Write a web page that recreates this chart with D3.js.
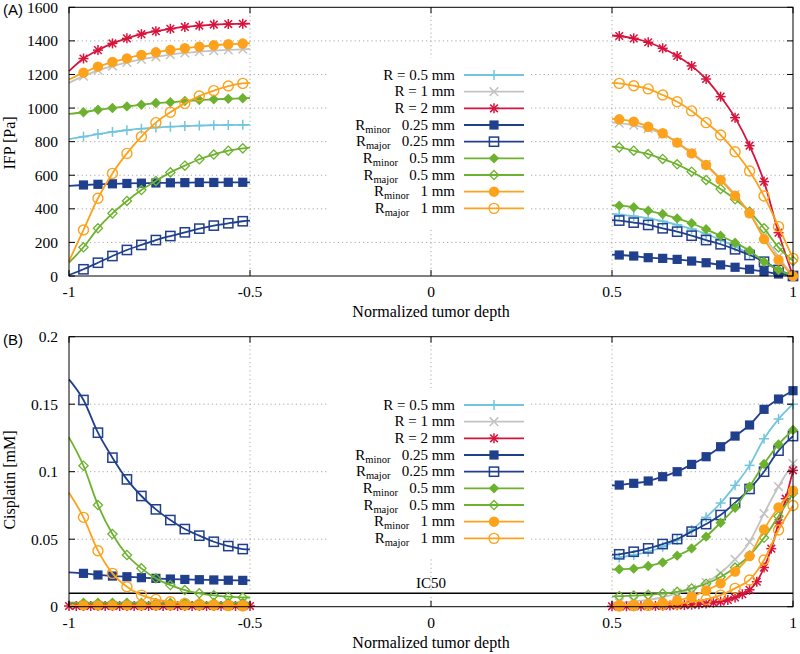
<!DOCTYPE html>
<html><head><meta charset="utf-8">
<script src="https://cdn.jsdelivr.net/npm/d3@7"></script>
<style>
html,body{margin:0;padding:0;background:#fff;}
svg text{font-family:"Liberation Serif","Times New Roman",serif;fill:#000;}
</style></head>
<body><svg id="c" width="800" height="654" font-family="Liberation Serif, serif"></svg>
<script>
// ---------- data ----------
const xTicks = [-1, -0.5, 0, 0.5, 1];
const xTickLabels = ["-1", "-0.5", "0", "0.5", "1"];
const ifpTicks = [0, 200, 400, 600, 800, 1000, 1200, 1400, 1600];
const cisTicks = [0, 0.05, 0.1, 0.15, 0.2];
const cisTickLabels = ["0", "0.05", "0.1", "0.15", "0.2"];

const xLeft  = [-1, -0.96, -0.92, -0.88, -0.84, -0.80, -0.76, -0.72, -0.68, -0.64, -0.60, -0.56, -0.52, -0.50];
const xRight = [0.50, 0.52, 0.56, 0.60, 0.64, 0.68, 0.72, 0.76, 0.80, 0.84, 0.88, 0.92, 0.96, 1.00];
const xFineLeft  = [-1, -0.98, -0.96, -0.94, -0.92, -0.90, -0.88, -0.86, -0.84, -0.82, -0.80, -0.78, -0.76, -0.74, -0.72, -0.70, -0.68, -0.66, -0.64, -0.62, -0.60, -0.58, -0.56, -0.54, -0.52, -0.50];
const xFineRight = [0.50, 0.52, 0.54, 0.56, 0.58, 0.60, 0.62, 0.64, 0.66, 0.68, 0.70, 0.72, 0.74, 0.76, 0.78, 0.80, 0.82, 0.84, 0.86, 0.88, 0.90, 0.92, 0.94, 0.96, 0.98, 1.00];

const seriesNames = ["R = 0.5 mm", "R = 1 mm", "R = 2 mm", "Rminor 0.25 mm", "Rmajor 0.25 mm", "Rminor 0.5 mm", "Rmajor 0.5 mm", "Rminor 1 mm", "Rmajor 1 mm"];

// IFP [Pa], left part
const ifpL_R05    = [815, 830, 845, 858, 868, 877, 884, 889, 893, 896, 898, 899, 900, 900];
const ifpL_R1     = [1150, 1190, 1225, 1250, 1272, 1290, 1305, 1318, 1328, 1336, 1342, 1346, 1350, 1352];
const ifpL_R2     = [1220, 1295, 1345, 1385, 1415, 1440, 1458, 1472, 1483, 1491, 1497, 1500, 1502, 1503];
const ifpL_Rmin025= [537, 542, 546, 549, 551, 553, 554, 555, 556, 557, 557, 558, 558, 558];
const ifpL_Rmaj025= [6, 40, 79, 119, 155, 185, 214, 238, 260, 282, 300, 314, 326, 330];
const ifpL_Rmin05 = [965, 975, 990, 1000, 1010, 1020, 1030, 1035, 1042, 1048, 1052, 1055, 1058, 1060];
const ifpL_Rmaj05 = [80, 171, 284, 373, 447, 512, 566, 617, 657, 695, 723, 746, 760, 765];
const ifpL_Rmin1  = [1170, 1211, 1247, 1274, 1296, 1316, 1332, 1346, 1356, 1366, 1374, 1380, 1384, 1386];
const ifpL_Rmaj1  = [88, 274, 463, 611, 730, 830, 913, 975, 1028, 1072, 1104, 1131, 1147, 1150];
// IFP [Pa], right part
const ifpR_R05    = [370, 366, 356, 343, 326, 305, 280, 250, 215, 176, 133, 88, 42, 0];
const ifpR_R1     = [915, 910, 898, 878, 845, 795, 735, 665, 580, 485, 375, 240, 115, 0];
const ifpR_R2     = [1432, 1429, 1415, 1392, 1356, 1310, 1251, 1173, 1068, 943, 776, 562, 258, 0];
const ifpR_Rmin025= [127, 125, 119, 109, 105, 99, 89, 79, 66, 52, 40, 26, 12, 0];
const ifpR_Rmaj025= [333, 330, 318, 304, 284, 264, 240, 214, 189, 159, 125, 85, 36, 0];
const ifpR_Rmin05 = [420, 419, 409, 389, 369, 343, 314, 278, 240, 198, 151, 85, 36, 0];
const ifpR_Rmaj05 = [770, 766, 746, 726, 697, 665, 621, 572, 518, 457, 383, 284, 171, 90];
const ifpR_Rmin1  = [936, 933, 919, 889, 850, 794, 730, 661, 572, 478, 373, 220, 95, 0];
const ifpR_Rmaj1  = [1150, 1147, 1133, 1114, 1078, 1038, 983, 913, 840, 740, 625, 476, 294, 105];

// Cisplatin [mM], left part
const cisL_R05    = [0.002, 0.002, 0.002, 0.002, 0.002, 0.002, 0.002, 0.002, 0.002, 0.002, 0.002, 0.002, 0.002, 0.002];
const cisL_R1     = [0.001, 0.001, 0.001, 0.001, 0.001, 0.001, 0.001, 0.001, 0.001, 0.001, 0.001, 0.001, 0.001, 0.001];
const cisL_R2     = [0.0005, 0.0005, 0.0005, 0.0005, 0.0005, 0.0005, 0.0005, 0.0005, 0.0005, 0.0005, 0.0005, 0.0005, 0.0005, 0.0005, 0.0005, 0.0005, 0.0005, 0.0005, 0.0005, 0.0005, 0.0005, 0.0005, 0.0005, 0.0005, 0.0005, 0.0005];
const cisL_Rmin025= [0.0254, 0.0247, 0.0235, 0.0227, 0.0222, 0.0215, 0.0210, 0.0205, 0.0202, 0.0200, 0.0198, 0.0196, 0.0195, 0.0195];
const cisL_Rmaj025= [0.1684, 0.1531, 0.1289, 0.1104, 0.0943, 0.0820, 0.0721, 0.0642, 0.0575, 0.0526, 0.0481, 0.0449, 0.0427, 0.0424];
const cisL_Rmin05 = [0.003, 0.003, 0.003, 0.003, 0.003, 0.003, 0.003, 0.003, 0.003, 0.003, 0.003, 0.003, 0.003, 0.003];
const cisL_Rmaj05 = [0.1254, 0.1044, 0.0753, 0.0538, 0.0383, 0.0284, 0.0210, 0.0160, 0.0123, 0.0099, 0.0084, 0.0074, 0.0069, 0.0068];
const cisL_Rmin1  = [0.001, 0.001, 0.001, 0.001, 0.001, 0.001, 0.001, 0.001, 0.001, 0.001, 0.001, 0.001, 0.001, 0.001];
const cisL_Rmaj1  = [0.0844, 0.0662, 0.0415, 0.0247, 0.0148, 0.0086, 0.0054, 0.0037, 0.0025, 0.0017, 0.0012, 0.0008, 0.0006, 0.0006];
// Cisplatin [mM], right part
const cisR_R05    = [0.0360, 0.0365, 0.0383, 0.0407, 0.0444, 0.0494, 0.0568, 0.0662, 0.0768, 0.0899, 0.1047, 0.1244, 0.1390, 0.1500];
const cisR_R1     = [0.003, 0.003, 0.004, 0.005, 0.007, 0.010, 0.013, 0.018, 0.025, 0.035, 0.048, 0.069, 0.089, 0.106];
const cisR_R2     = [0.0003, 0.0003, 0.0003, 0.0004, 0.0004, 0.0005, 0.0006, 0.0007, 0.0008, 0.001, 0.0012, 0.0015, 0.0019, 0.0024, 0.003, 0.0038, 0.005, 0.0068, 0.0092, 0.0125, 0.0185, 0.029, 0.043, 0.062, 0.08, 0.101];
const cisR_Rmin025= [0.0898, 0.0901, 0.0914, 0.0931, 0.0963, 0.1000, 0.1054, 0.1111, 0.1185, 0.1264, 0.1346, 0.1462, 0.1538, 0.1600];
const cisR_Rmaj025= [0.0385, 0.0388, 0.0407, 0.0432, 0.0464, 0.0501, 0.0556, 0.0612, 0.0679, 0.0770, 0.0872, 0.1000, 0.1156, 0.1264];
const cisR_Rmin05 = [0.0275, 0.0277, 0.0282, 0.0301, 0.0328, 0.0378, 0.0432, 0.0519, 0.0622, 0.0733, 0.0889, 0.1057, 0.1202, 0.1309];
const cisR_Rmaj05 = [0.0075, 0.0078, 0.0082, 0.0088, 0.0097, 0.011, 0.0135, 0.017, 0.022, 0.029, 0.038, 0.051, 0.067, 0.084];
const cisR_Rmin1  = [0.001, 0.0012, 0.0015, 0.002, 0.003, 0.0045, 0.0074, 0.012, 0.0173, 0.026, 0.0375, 0.0573, 0.0736, 0.086];
const cisR_Rmaj1  = [0.0005, 0.0006, 0.0008, 0.001, 0.0015, 0.0022, 0.0035, 0.0054, 0.0086, 0.0136, 0.0198, 0.0346, 0.0568, 0.075];

const ic50 = 0.01;

// ---------- styles ----------
const colors  = ["#72c5dc", "#c3c3c3", "#d7143c", "#203f8c", "#203f8c", "#6db22f", "#6db22f", "#fca21c", "#fca21c"];
const symbols = ["plus", "cross", "star", "sqF", "sqO", "diaF", "diaO", "cirF", "cirO"];

const svg = d3.select("#c");
const X0 = 69, X1 = 793;
const x = d3.scaleLinear().domain([-1, 1]).range([X0, X1]);

function marker(g, type, cx, cy, col) {
  const s = 4.6;
  if (type === "plus" || type === "star") {
    g.append("line").attr("x1", cx - 5).attr("x2", cx + 5).attr("y1", cy).attr("y2", cy).attr("stroke", col).attr("stroke-width", 1.5);
    g.append("line").attr("x1", cx).attr("x2", cx).attr("y1", cy - 5).attr("y2", cy + 5).attr("stroke", col).attr("stroke-width", 1.5);
  }
  if (type === "cross" || type === "star") {
    const d = type === "star" ? 3.8 : 4.3;
    g.append("line").attr("x1", cx - d).attr("x2", cx + d).attr("y1", cy - d).attr("y2", cy + d).attr("stroke", col).attr("stroke-width", 1.5);
    g.append("line").attr("x1", cx - d).attr("x2", cx + d).attr("y1", cy + d).attr("y2", cy - d).attr("stroke", col).attr("stroke-width", 1.5);
  }
  if (type === "sqF") g.append("rect").attr("x", cx - s).attr("y", cy - s).attr("width", 2 * s).attr("height", 2 * s).attr("fill", col);
  if (type === "sqO") g.append("rect").attr("x", cx - s).attr("y", cy - s).attr("width", 2 * s).attr("height", 2 * s).attr("fill", "none").attr("stroke", col).attr("stroke-width", 1.5);
  if (type === "diaF") g.append("path").attr("d", `M${cx},${cy - 5.2}L${cx + 5.2},${cy}L${cx},${cy + 5.2}L${cx - 5.2},${cy}Z`).attr("fill", col);
  if (type === "diaO") g.append("path").attr("d", `M${cx},${cy - 4.6}L${cx + 4.6},${cy}L${cx},${cy + 4.6}L${cx - 4.6},${cy}Z`).attr("fill", "none").attr("stroke", col).attr("stroke-width", 1.3);
  if (type === "cirF") g.append("circle").attr("cx", cx).attr("cy", cy).attr("r", 5.2).attr("fill", col);
  if (type === "cirO") g.append("circle").attr("cx", cx).attr("cy", cy).attr("r", 5).attr("fill", "none").attr("stroke", col).attr("stroke-width", 1.4);
}

function legendLabel(g, name, xr, yc) {
  const t = g.append("text").attr("x", xr).attr("y", yc + 4.5).attr("text-anchor", "end").attr("font-size", 15).style("white-space", "pre");
  const m = name.match(/^R(minor|major) (.*)$/);
  if (m) {
    t.append("tspan").text("R");
    t.append("tspan").attr("font-size", 10.5).attr("dy", 3).text(m[1]);
    t.append("tspan").attr("dy", -3).text("   " + m[2]);
  } else t.text(name);
}

function panel(opt) {
  const { top, bot, y, yTicks, yLabels, ylabel, ylabelY, tag, left, right, fineL, fineR, legendTop, extra } = opt;
  const g = svg.append("g");
  // grid
  const grid = g.append("g").attr("stroke", "#a8a8a8").attr("stroke-width", 1).attr("stroke-dasharray", "1.2,3");
  yTicks.slice(1, -1).forEach(v => grid.append("line").attr("x1", X0).attr("x2", X1).attr("y1", y(v)).attr("y2", y(v)));
  xTicks.slice(1, -1).forEach(v => grid.append("line").attr("x1", x(v)).attr("x2", x(v)).attr("y1", top).attr("y2", bot));
  // legend box (opaque)
  g.append("rect").attr("x", 328).attr("y", legendTop - 17).attr("width", 202).attr("height", 170).attr("fill", "#fff");
  if (extra) extra(g);
  // data
  const line = d3.line().x(d => x(d[0])).y(d => y(d[1])).curve(d3.curveMonotoneX);
  for (let i = 0; i < 9; i++) {
    [[left[i], i === 2 && fineL ? xFineLeft : xLeft, true], [right[i], i === 2 && fineR ? xFineRight : xRight, false]].forEach(([vals, xs, isLeft]) => {
      const pts = xs.map((xv, k) => [xv, vals[k]]);
      g.append("path").attr("d", line(pts)).attr("fill", "none").attr("stroke", colors[i]).attr("stroke-width", 1.8);
      const fine = (i === 2) && (isLeft ? fineL : fineR);
      pts.forEach((p, k) => {
        if (!fine) {
          if (isLeft && (k === 0 || k === pts.length - 1)) return;
          if (!isLeft && k === 0) return;
        }
        marker(g, symbols[i], x(p[0]), y(p[1]), colors[i]);
      });
    });
  }
  // legend
  seriesNames.forEach((n, i) => {
    const yc = legendTop + i * 16.67;
    legendLabel(g, n, 455, yc);
    g.append("line").attr("x1", 464).attr("x2", 524).attr("y1", yc).attr("y2", yc).attr("stroke", colors[i]).attr("stroke-width", 1.8);
    marker(g, symbols[i], 494, yc, colors[i]);
  });
  // frame
  g.append("rect").attr("x", X0).attr("y", top).attr("width", X1 - X0).attr("height", bot - top).attr("fill", "none").attr("stroke", "#000").attr("stroke-width", 1);
  // ticks
  const tk = g.append("g").attr("stroke", "#000").attr("stroke-width", 1);
  yTicks.forEach((v, i) => {
    tk.append("line").attr("x1", X0).attr("x2", X0 + 6).attr("y1", y(v)).attr("y2", y(v));
    tk.append("line").attr("x1", X1 - 6).attr("x2", X1).attr("y1", y(v)).attr("y2", y(v));
    g.append("text").attr("x", 58).attr("y", y(v) + 5.5).attr("text-anchor", "end").attr("font-size", 15.5).text(yLabels[i]);
  });
  xTicks.forEach((v, i) => {
    tk.append("line").attr("x1", x(v)).attr("x2", x(v)).attr("y1", bot).attr("y2", bot - 6);
    tk.append("line").attr("x1", x(v)).attr("x2", x(v)).attr("y1", top).attr("y2", top + 6);
    g.append("text").attr("x", x(v)).attr("y", bot + 21).attr("text-anchor", "middle").attr("font-size", 15.5).text(xTickLabels[i]);
  });
  g.append("text").attr("x", (X0 + X1) / 2).attr("y", bot + 41).attr("text-anchor", "middle").attr("font-size", 16).text("Normalized tumor depth");
  g.append("text").attr("transform", `translate(15,${ylabelY}) rotate(-90)`).attr("text-anchor", "middle").attr("font-size", 16).text(ylabel);
  g.append("text").attr("x", 3).attr("y", tag[1]).attr("font-size", 15).style("font-family", "'Liberation Sans',Arial,sans-serif").text(tag[0]);
}

const yTop = d3.scaleLinear().domain([0, 1600]).range([276, 7.3]);
panel({
  top: 7.3, bot: 276, y: yTop, yTicks: ifpTicks, yLabels: ifpTicks.map(String),
  ylabel: "IFP [Pa]", ylabelY: 143, tag: ["(A)", 15],
  left: [ifpL_R05, ifpL_R1, ifpL_R2, ifpL_Rmin025, ifpL_Rmaj025, ifpL_Rmin05, ifpL_Rmaj05, ifpL_Rmin1, ifpL_Rmaj1],
  right: [ifpR_R05, ifpR_R1, ifpR_R2, ifpR_Rmin025, ifpR_Rmaj025, ifpR_Rmin05, ifpR_Rmaj05, ifpR_Rmin1, ifpR_Rmaj1],
  fineL: false, fineR: false, legendTop: 75
});

const yBot = d3.scaleLinear().domain([0, 0.2]).range([606.7, 336.7]);
panel({
  top: 336.7, bot: 606.7, y: yBot, yTicks: cisTicks, yLabels: cisTickLabels,
  ylabel: "Cisplatin [mM]", ylabelY: 480, tag: ["(B)", 345],
  left: [cisL_R05, cisL_R1, cisL_R2, cisL_Rmin025, cisL_Rmaj025, cisL_Rmin05, cisL_Rmaj05, cisL_Rmin1, cisL_Rmaj1],
  right: [cisR_R05, cisR_R1, cisR_R2, cisR_Rmin025, cisR_Rmaj025, cisR_Rmin05, cisR_Rmaj05, cisR_Rmin1, cisR_Rmaj1],
  fineL: true, fineR: true, legendTop: 405,
  extra: g => {
    g.append("line").attr("x1", X0).attr("x2", X1).attr("y1", yBot(ic50)).attr("y2", yBot(ic50)).attr("stroke", "#000").attr("stroke-width", 1.5);
    g.append("text").attr("x", 431).attr("y", yBot(ic50) - 5).attr("text-anchor", "middle").attr("font-size", 15).text("IC50");
  }
});
</script></body></html>
